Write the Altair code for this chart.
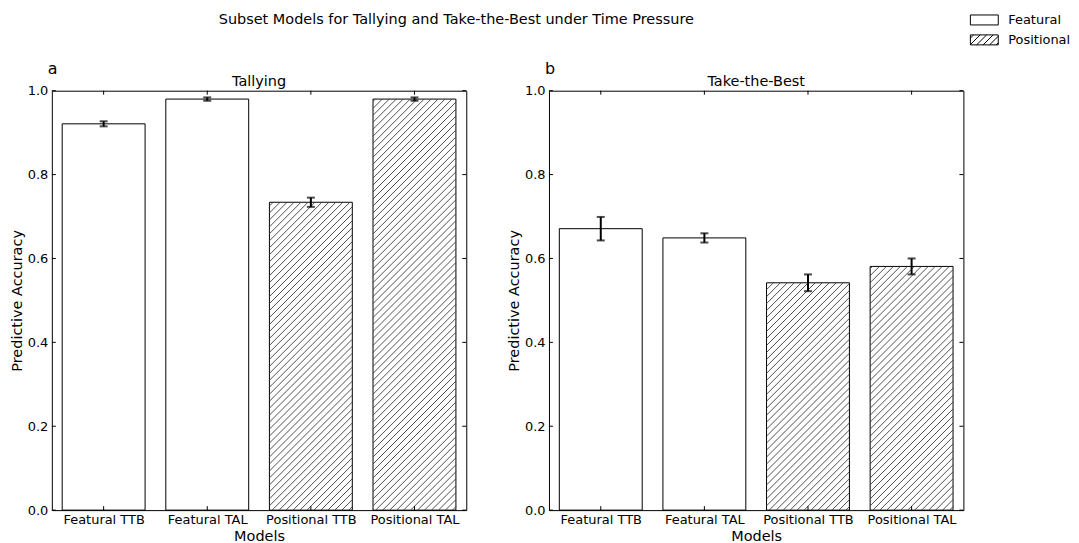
import json
import altair as alt
import pandas as pd

models = ["Featural TTB", "Featural TAL", "Positional TTB", "Positional TAL"]
types = ["Featural", "Featural", "Positional", "Positional"]
tal_acc = [0.921, 0.980, 0.734, 0.980]
tal_err = [0.006, 0.004, 0.011, 0.004]
ttb_acc = [0.671, 0.649, 0.542, 0.581]
ttb_err = [0.028, 0.011, 0.020, 0.019]
y_ticks = [0.0, 0.2, 0.4, 0.6, 0.8, 1.0]
x_ticks = [0.5, 1.5, 2.5, 3.5]
main_title = "Subset Models for Tallying and Take-the-Best under Time Pressure"

W, H = 416, 421
PXU_X = W / 4.0
PXU_Y = H / 1.0
HATCH = 7.0
FONT = "DejaVu Sans"

label_expr = json.dumps(models) + "[floor(datum.value)]"


def legend_paths():
    hw, hh = 1.333, 0.476
    rect = f"M-{hw},-{hh}H{hw}V{hh}H-{hw}Z"
    segs = []
    step = 0.62
    x0 = -hw - 2 * hh + step / 2
    while x0 < hw:
        xs, ys = x0, hh
        xe, ye = x0 + 2 * hh, -hh
        if xs < -hw:
            ys = hh - (-hw - xs)
            xs = -hw
        if xe > hw:
            ye = hh - (hw - x0)
            xe = hw
        if xe > xs:
            segs.append(f"M{xs:.3f},{ys:.3f}L{xe:.3f},{ye:.3f}")
        x0 += step
    return rect, rect + "".join(segs)


def txt(text, x, y, size, align="center"):
    return alt.Chart(pd.DataFrame({"t": [text]})).mark_text(
        align=align, baseline="middle", fontSize=size, font=FONT,
        color="black").encode(text="t:N", x=alt.value(x), y=alt.value(y))


def panel(acc, err, title, letter, first):
    df = pd.DataFrame({
        "model": models, "type": types, "i": list(range(len(models))),
        "acc": acc, "err": err,
    })
    base = alt.Chart(df).transform_calculate(
        x0="datum.i + 0.1", x1="datum.i + 0.9", xc="datum.i + 0.5",
        lo="datum.acc - datum.err", hi="datum.acc + datum.err",
    )
    xscale = alt.Scale(domain=[0, 4], nice=False, zero=False)
    yscale = alt.Scale(domain=[0, 1], nice=False)
    xaxis = alt.Axis(values=x_ticks, labelExpr=label_expr,
                     title="Models", grid=False, ticks=False, domain=False,
                     labelPadding=3, titlePadding=3)
    yaxis = alt.Axis(values=y_ticks, format=".1f", title="Predictive Accuracy",
                     grid=False, ticks=False, domain=False, labelPadding=4,
                     titlePadding=3)
    bars = base.mark_bar(fill="white", stroke="black", strokeWidth=1).encode(
        x=alt.X("x0:Q", scale=xscale, axis=xaxis),
        x2="x1:Q",
        y=alt.Y("acc:Q", scale=yscale, axis=yaxis),
        y2=alt.datum(0),
    )
    hatch = alt.Chart(df).transform_filter(
        "datum.type == 'Positional'"
    ).transform_calculate(
        bx="datum.i + 0.1",
        wpx=f"0.8 * {PXU_X}",
        hpx=f"datum.acc * {PXU_Y}",
    ).transform_calculate(
        offs=f"sequence(-datum.wpx + {HATCH/2}, datum.hpx, {HATCH})"
    ).transform_flatten(["offs"]).transform_calculate(
        xs="max(0, -datum.offs)",
        xe="min(datum.wpx, datum.hpx - datum.offs)",
    ).transform_filter("datum.xe > datum.xs").transform_calculate(
        hx1=f"datum.bx + datum.xs / {PXU_X}",
        hx2=f"datum.bx + datum.xe / {PXU_X}",
        hy1=f"(datum.xs + datum.offs) / {PXU_Y}",
        hy2=f"(datum.xe + datum.offs) / {PXU_Y}",
    ).mark_rule(color="#3a3a3a", strokeWidth=0.9).encode(
        x=alt.X("hx1:Q", scale=xscale), x2="hx2:Q",
        y=alt.Y("hy1:Q", scale=yscale), y2="hy2:Q",
    )
    erule = base.mark_rule(color="black", strokeWidth=2).encode(
        x=alt.X("xc:Q", scale=xscale), y=alt.Y("lo:Q", scale=yscale), y2="hi:Q"
    )
    cap_lo = base.mark_tick(color="black", orient="horizontal", size=8,
                            thickness=2).encode(
        x=alt.X("xc:Q", scale=xscale), y=alt.Y("lo:Q", scale=yscale))
    cap_hi = base.mark_tick(color="black", orient="horizontal", size=8,
                            thickness=2).encode(
        x=alt.X("xc:Q", scale=xscale), y=alt.Y("hi:Q", scale=yscale))
    ydf = pd.DataFrame({"v": y_ticks})
    xdf = pd.DataFrame({"v": x_ticks})
    yt_l = alt.Chart(ydf).mark_rule(color="black", strokeWidth=1).encode(
        y=alt.Y("v:Q", scale=yscale), x=alt.value(0), x2=alt.value(4))
    yt_r = alt.Chart(ydf).mark_rule(color="black", strokeWidth=1).encode(
        y=alt.Y("v:Q", scale=yscale), x=alt.value(W - 4), x2=alt.value(W))
    xt_t = alt.Chart(xdf).mark_rule(color="black", strokeWidth=1).encode(
        x=alt.X("v:Q", scale=xscale), y=alt.value(0), y2=alt.value(4))
    xt_b = alt.Chart(xdf).mark_rule(color="black", strokeWidth=1).encode(
        x=alt.X("v:Q", scale=xscale), y=alt.value(H - 4), y2=alt.value(H))
    layers = [bars, hatch, erule, cap_lo, cap_hi, yt_l, yt_r, xt_t, xt_b,
              txt(letter, -4, -22, 16, "left"), txt(title, W / 2, -9, 14.5)]
    if first:
        layers.append(txt(main_title, 406, -71, 14.5))
        rect, hatched = legend_paths()
        leg = base.mark_point(filled=False, opacity=0, color="black").encode(
            x=alt.X("xc:Q", scale=xscale), y=alt.Y("acc:Q", scale=yscale),
            shape=alt.Shape("type:N", scale=alt.Scale(
                domain=["Featural", "Positional"], range=[rect, hatched]),
                legend=alt.Legend(title=None, orient="none", legendX=925,
                                  legendY=-82, symbolSize=441,
                                  symbolOpacity=1, symbolStrokeColor="black",
                                  symbolFillColor="white", symbolStrokeWidth=1,
                                  labelFontSize=13, labelFont=FONT,
                                  labelColor="black", rowPadding=2,
                                  labelOffset=13, padding=0)),
        )
        layers.append(leg)
    return alt.layer(*layers).properties(width=W, height=H)


left = panel(tal_acc, tal_err, "Tallying", "a", True)
right = panel(ttb_acc, ttb_err, "Take-the-Best", "b", False)

chart = alt.hconcat(left, right, spacing=83, bounds="flush").properties(
    padding={"left": 0, "top": 0, "right": 0, "bottom": 0},
).configure_view(stroke="black", strokeWidth=1).configure_axis(
    labelFont=FONT, titleFont=FONT, labelFontSize=13, titleFontSize=14.5,
    labelColor="black", titleColor="black", titleFontWeight="normal",
)

chart.save("out.html", embed_options={"renderer": "svg", "actions": False})
